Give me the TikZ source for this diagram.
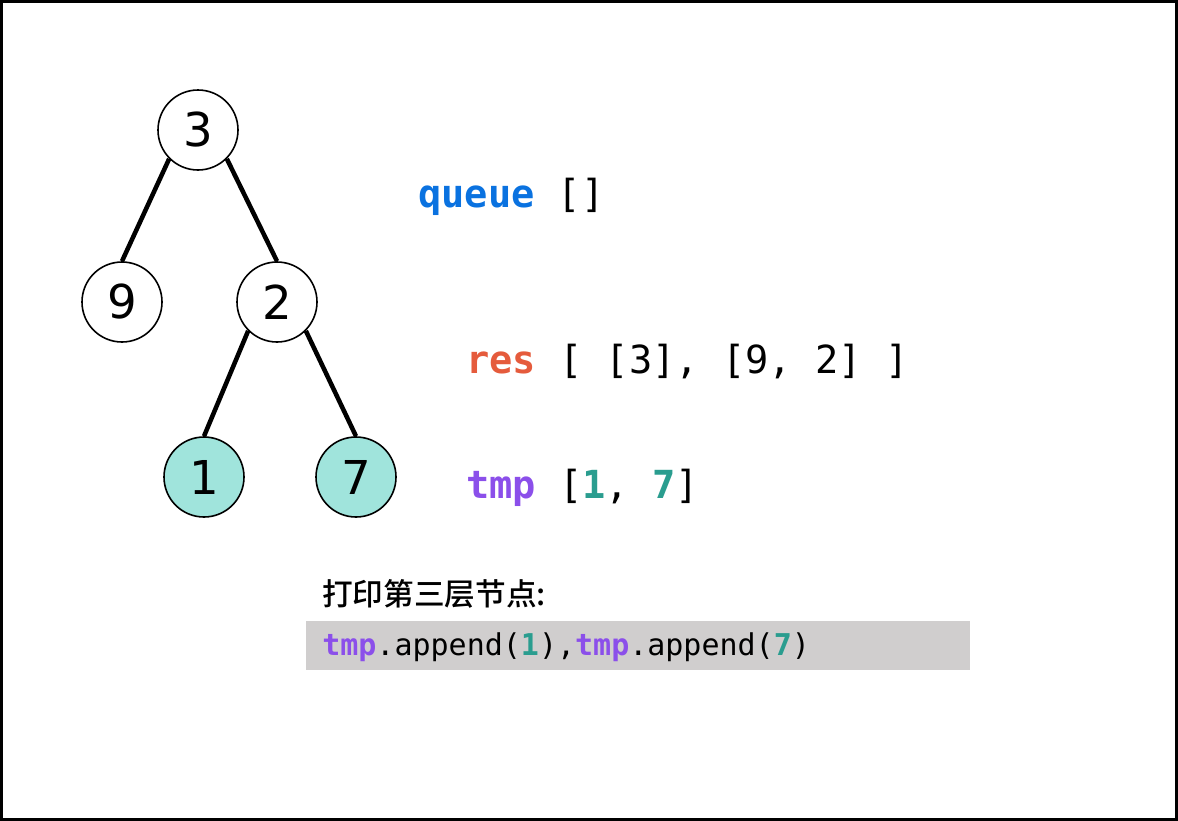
\documentclass[tikz,border=0pt]{standalone}
\usepackage{fontspec}
\setmainfont{DejaVu Sans}
\newfontfamily\codefont{DejaVu Sans Mono}
\newfontfamily\cjkfont{Noto Sans CJK SC}[BoldFont={Noto Sans CJK SC Medium}]
\usetikzlibrary{positioning}

\definecolor{queueblue}{HTML}{0A72E0}
\definecolor{resred}{HTML}{E55B3C}
\definecolor{tmppurple}{HTML}{8B4FEA}
\definecolor{valteal}{HTML}{2A9D8F}
\definecolor{leaffill}{HTML}{A0E4DC}
\definecolor{codegray}{HTML}{D0CECE}

\begin{document}
\begin{tikzpicture}[
    x=0.75pt, y=-0.75pt,
    treenode/.style={circle, draw, line width=1.2pt, minimum size=60pt, inner sep=0pt,
                     font=\fontsize{35}{35}\selectfont},
    leaf/.style={treenode, fill=leaffill},
    edge/.style={line width=3.4pt},
    vartext/.style={anchor=base west, inner sep=0pt, font=\codefont\fontsize{29}{29}\selectfont},
    codetext/.style={anchor=base west, inner sep=0pt, font=\codefont\fontsize{22.5}{22.5}\selectfont}
]
\useasboundingbox (0,0) rectangle (1178,821);
\draw[line width=2.25pt] (1.5,1.5) rectangle (1176.5,819.5);

% Tree
\node[treenode] (n3) at (198,130) {3};
\node[treenode] (n9) at (122,302) {9};
\node[treenode] (n2) at (277,302) {2};
\node[leaf] (n1) at (204,477) {1};
\node[leaf] (n7) at (356,477) {7};

\draw[edge] (n3.-135) -- (n9.north);
\draw[edge] (n3.-45) -- (n2.north);
\draw[edge] (n2.-135) -- (n1.north);
\draw[edge] (n2.-45) -- (n7.north);

% Variables
\node[vartext] (queue) at (418,207) {{\color{queueblue}\bfseries queue} []};
\node[vartext] (res) at (466,373) {{\color{resred}\bfseries res} [ [3], [9, 2] ]};
\node[vartext] (tmp) at (466,498) {{\color{tmppurple}\bfseries tmp} [{\color{valteal}\bfseries 1}, {\color{valteal}\bfseries 7}]};

% Step note
\node[anchor=base west, inner sep=0pt, font=\cjkfont\bfseries\fontsize{23}{23}\selectfont] (title) at (322,605) {打印第三层节点:};
\fill[codegray] (306,621) rectangle (970,670);
\node[codetext] (code) at (322,655) {{\color{tmppurple}\bfseries tmp}.append({\color{valteal}\bfseries 1}),{\color{tmppurple}\bfseries tmp}.append({\color{valteal}\bfseries 7})};

\end{tikzpicture}
\end{document}
